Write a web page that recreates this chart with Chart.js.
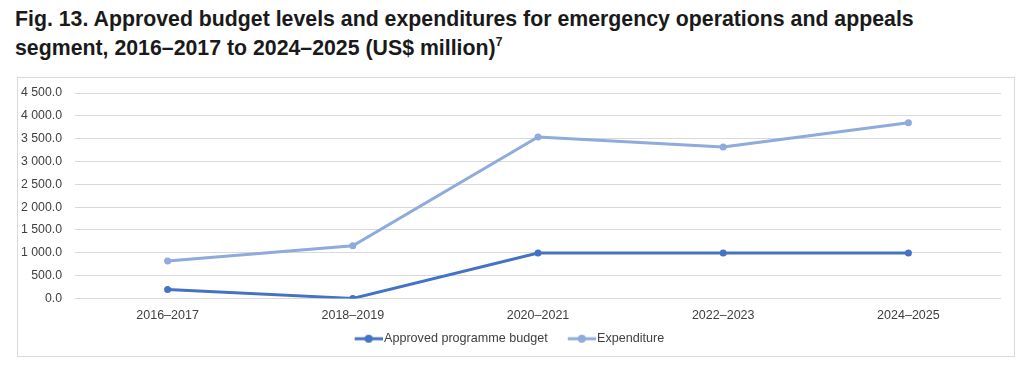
<!DOCTYPE html>
<html>
<head>
<meta charset="utf-8">
<script src="https://cdn.jsdelivr.net/npm/chart.js@4.4.1/dist/chart.umd.min.js"></script>
<style>
  html, body { margin: 0; padding: 0; background: #ffffff; width: 1024px; height: 369px; overflow: hidden; }
  #title { position: absolute; left: 15px; top: 5px; margin: 0;
    font-family: "Liberation Sans", Arial, sans-serif;
    font-weight: bold; font-size: 21.3px; line-height: 29px; color: #1a1a1a; white-space: nowrap; }
  #title sup { font-size: 12px; vertical-align: 9px; line-height: 0; }
  #box { position: absolute; left: 17px; top: 77px; width: 998px; height: 280px;
    border: 1px solid #d9d9d9; box-sizing: border-box; }
  #wrap { position: absolute; left: 0; top: 0; width: 996px; height: 278px; }
</style>
</head>
<body>
<div id="title">Fig. 13. Approved budget levels and expenditures for emergency operations and appeals<br>segment, 2016–2017 to 2024–2025 (US$ million)<sup>7</sup></div>
<div id="box"><div id="wrap"><canvas id="c"></canvas></div></div>
<script>
const categories = ["2016–2017", "2018–2019", "2020–2021", "2022–2023", "2024–2025"];
const approvedBudget = [195, 0, 995, 995, 995];
const expenditure = [820, 1155, 3535, 3315, 3850];
const yTicks = [0, 500, 1000, 1500, 2000, 2500, 3000, 3500, 4000, 4500];

const darkBlue = "#4472C4";
const lightBlue = "#8FAADC";

function legendIcon(color) {
  const cv = document.createElement("canvas");
  cv.width = 33; cv.height = 10;
  const g = cv.getContext("2d");
  g.strokeStyle = color; g.lineWidth = 3;
  g.beginPath(); g.moveTo(5, 5); g.lineTo(33, 5); g.stroke();
  g.fillStyle = color;
  g.beginPath(); g.arc(19, 5, 4, 0, Math.PI * 2); g.fill();
  return cv;
}

function fmt(v) {
  const s = v.toFixed(1);
  const [i, d] = s.split(".");
  return i.replace(/\B(?=(\d{3})+(?!\d))/g, " ") + "." + d;
}

const FONT = "Liberation Sans, Arial, sans-serif";

new Chart(document.getElementById("c"), {
  type: "line",
  data: {
    labels: categories,
    datasets: [
      { label: "Approved programme budget", data: approvedBudget, borderColor: darkBlue, backgroundColor: darkBlue,
        borderWidth: 3, pointRadius: 3.5, pointHoverRadius: 3.5, pointBackgroundColor: darkBlue, pointBorderWidth: 0,
        tension: 0, pointStyle: "circle" },
      { label: "Expenditure", data: expenditure, borderColor: lightBlue, backgroundColor: lightBlue,
        borderWidth: 3, pointRadius: 3.5, pointHoverRadius: 3.5, pointBackgroundColor: lightBlue, pointBorderWidth: 0,
        tension: 0, pointStyle: "circle" }
    ]
  },
  options: {
    responsive: true,
    maintainAspectRatio: false,
    animation: false,
    layout: { padding: { left: 0, right: 13, top: 15, bottom: 1 } },
    plugins: {
      tooltip: { enabled: false },
      legend: {
        position: "bottom",
        labels: {
          usePointStyle: true,
          pointStyleWidth: 23,
          boxHeight: 10,
          padding: 20,
          color: "#404040",
          font: { family: FONT, size: 12.6 },
          generateLabels(chart) {
            return chart.data.datasets.map((ds, i) => ({
              text: ds.label, pointStyle: legendIcon(ds.borderColor), fillStyle: ds.borderColor,
              strokeStyle: ds.borderColor, lineWidth: 0, hidden: false, datasetIndex: i, fontColor: "#404040"
            }));
          }
        }
      }
    },
    scales: {
      x: {
        offset: true,
        grid: { display: false, drawTicks: false },
        border: { display: false },
        ticks: { color: "#404040", padding: 10, font: { family: FONT, size: 12.5 } },
        afterFit(scale) { scale.height = 14; scale._computeLabelArea = function () { return undefined; }; }
      },
      y: {
        min: 0, max: 4500,
        afterBuildTicks(scale) { scale.ticks = yTicks.map(v => ({ value: v })); },
        grid: { color: "#d9d9d9", lineWidth: 1, drawTicks: false },
        border: { display: false },
        ticks: { color: "#404040", padding: 13, callback: v => fmt(v), font: { family: FONT, size: 12.3 } },
        afterFit(scale) { scale.width = 57; scale.paddingTop = 0; scale.paddingBottom = 0; }
      }
    }
  }
});
</script>
</body>
</html>
